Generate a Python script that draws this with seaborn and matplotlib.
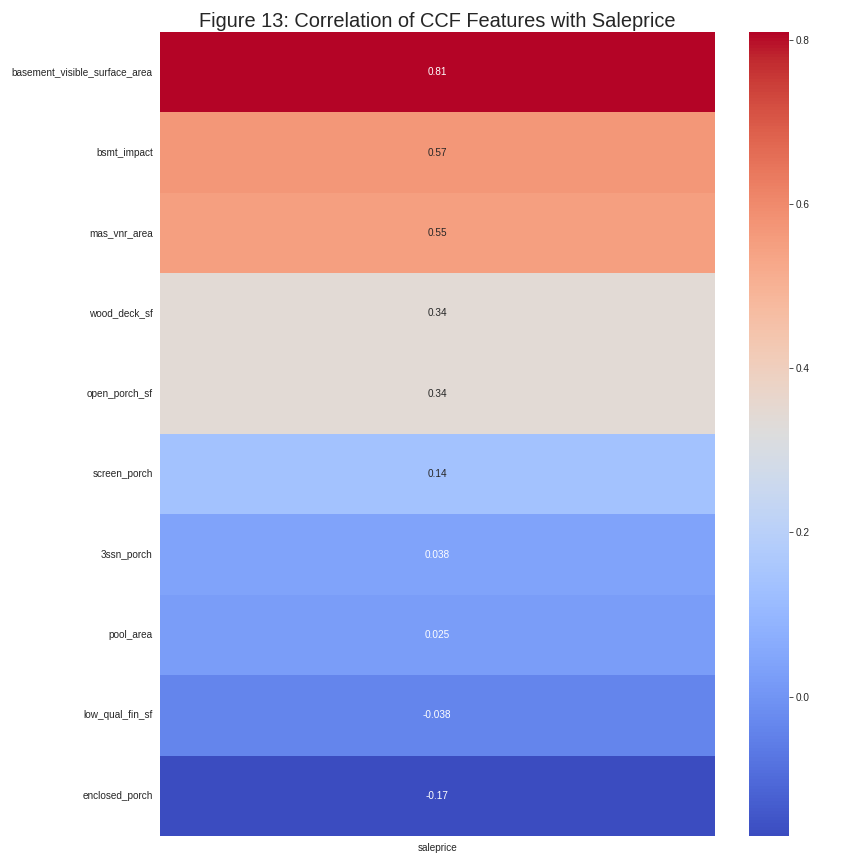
import pandas as pd
import numpy as np
import matplotlib
matplotlib.use("Agg")
import matplotlib.pyplot as plt
import seaborn as sns

features = ["basement_visible_surface_area", "bsmt_impact", "mas_vnr_area",
            "wood_deck_sf", "open_porch_sf", "screen_porch", "3ssn_porch",
            "pool_area", "low_qual_fin_sf", "enclosed_porch"]
corr_values = [0.81, 0.57, 0.55, 0.34, 0.34, 0.14, 0.038, 0.025, -0.038, -0.17]

sns.set_style("whitegrid")
plt.rcParams['font.family'] = ['Liberation Sans', 'DejaVu Sans']

corr = pd.DataFrame({"saleprice": corr_values}, index=features)

fig = plt.figure(figsize=(12, 12), dpi=72)
# posiciones a mano para que se parezca al original
ax = fig.add_axes([0.185, 0.0324, 0.642, 0.9306])
cax = fig.add_axes([0.867, 0.0324, 0.0463, 0.9306])
sns.heatmap(corr, annot=True, cmap="coolwarm", ax=ax, cbar_ax=cax)
ax.set_title("Figure 13: Correlation of CCF Features with Saleprice", fontsize=20, pad=5)
plt.savefig("out.png", dpi=72)
